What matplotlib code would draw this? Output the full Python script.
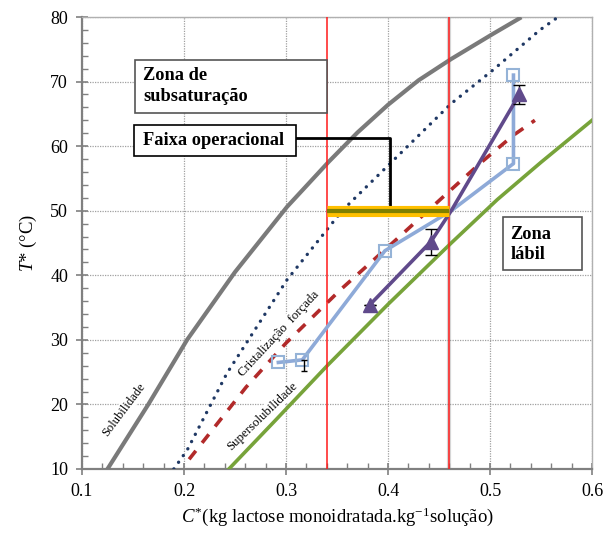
import matplotlib
matplotlib.use('Agg')
import matplotlib.pyplot as plt
from matplotlib.patches import Rectangle
from matplotlib.ticker import MultipleLocator

plt.rcParams['font.family'] = ['Liberation Serif', 'DejaVu Serif']
plt.rcParams['mathtext.fontset'] = 'custom'
plt.rcParams['mathtext.rm'] = 'Liberation Serif'
plt.rcParams['mathtext.it'] = 'Liberation Serif:italic'

# curves
sol_x = [0.125, 0.165, 0.203, 0.25, 0.301, 0.342, 0.37, 0.40, 0.43, 0.462, 0.503, 0.529]
sol_y = [10, 20, 30, 40.5, 50.6, 57.6, 62.1, 66.4, 70.2, 73.5, 77.4, 79.8]

dot_x = [0.19, 0.203, 0.242, 0.301, 0.355, 0.402, 0.462, 0.503, 0.549, 0.565]
dot_y = [10, 12.9, 24.8, 39.3, 50, 57.3, 66.6, 71.8, 78, 79.8]

forc_x = [0.205, 0.261, 0.30, 0.353, 0.41, 0.451, 0.49, 0.523, 0.544]
forc_y = [11.5, 22.7, 29.5, 37.7, 45.8, 51.7, 57.3, 61.7, 64]

sup_x = [0.244, 0.29, 0.341, 0.40, 0.462, 0.507, 0.55, 0.6]
sup_y = [10, 17.6, 26.1, 35.5, 45, 51.7, 57.5, 64]

# experimental runs
blue_x = [0.2925, 0.316, 0.397, 0.462, 0.523, 0.523]
blue_y = [26.5, 26.9, 43.8, 50, 57.3, 71]
blue_marks = [0, 1, 2, 4, 5]

purp_x = [0.382, 0.442, 0.462, 0.525]
purp_y = [35.4, 45.2, 50, 67]
purp_mk_x = [0.382, 0.442, 0.528]
purp_mk_y = [35.4, 45.2, 68]
purp_err = [0, 2.0, 1.4]

c_lo, c_hi = 0.34, 0.46
t_op = 50

fig = plt.figure(figsize=(6.07, 5.33), dpi=100)
ax = fig.add_axes([0.1351, 0.1201, 0.8402, 0.8480])

ax.plot(sol_x, sol_y, color='#7a7a7a', lw=3, zorder=3)
ax.plot(dot_x, dot_y, color='#1f3864', lw=2.4, ls=(0, (0.05, 2.4)), dash_capstyle='round', zorder=3)
ax.plot(forc_x, forc_y, color='#b22a2a', lw=2.6, ls=(0, (3, 2.8)), zorder=3)
ax.plot(sup_x, sup_y, color='#77a33a', lw=2.6, zorder=3)

ax.axvline(c_hi, color='#9a9a9a', lw=3, alpha=0.4, zorder=2)
ax.axvline(c_lo, color='#ff1a1a', lw=1.1, zorder=4)
ax.axvline(c_hi, color='#ff1a1a', lw=1.1, zorder=4)

ax.plot(blue_x, blue_y, color='#8eaad8', lw=2.6, marker='s', ms=8, mfc='none',
        mec='#95b3d7', mew=1.5, markevery=blue_marks, zorder=5)
ax.errorbar([0.318], [26.9], yerr=[[1.8], [0]], fmt='none', ecolor='black', elinewidth=1, capsize=2, zorder=5)

ax.plot(purp_x, purp_y, color='#604a8b', lw=2.6, zorder=6)
ax.errorbar(purp_mk_x, purp_mk_y, yerr=purp_err, fmt='^', color='#604a8b', ms=10,
            ecolor='black', elinewidth=1, capsize=4, zorder=6)

ax.plot([c_lo, c_hi], [t_op, t_op], color='#ffc000', lw=8, solid_capstyle='butt', zorder=7)
ax.plot([c_lo, c_hi], [t_op, t_op], color='#7f8000', lw=3, solid_capstyle='butt', zorder=8)

# bracket from label box to operating band
ax.plot([0.310, 0.402, 0.402], [61.2, 61.2, t_op], color='black', lw=2, zorder=6)

# labels along the curves
ax.text(0.141, 19.2, 'Solubilidade', rotation=53, fontsize=9, ha='center', va='center',
        rotation_mode='anchor', zorder=9,
        bbox=dict(boxstyle='square,pad=0.1', fc='white', ec='none'))
ax.text(0.293, 31, 'Cristalização  forçada', rotation=47, fontsize=9.3, ha='center', va='center',
        rotation_mode='anchor', zorder=9,
        bbox=dict(boxstyle='square,pad=0.15', fc='white', ec='none'))
ax.text(0.277, 18.2, 'Supersolubilidade', rotation=44, fontsize=9.3, ha='center', va='center',
        rotation_mode='anchor', zorder=9,
        bbox=dict(boxstyle='square,pad=0.1', fc='white', ec='none'))

# zone boxes
ax.add_patch(Rectangle((0.152, 65.1), 0.188, 8.3, fc='white', ec='#555555', lw=1.2, zorder=9))
ax.text(0.160, 69.3, 'Zona de\nsubsaturação', fontsize=13.2, fontweight='bold',
        ha='left', va='center', linespacing=1.25, zorder=10)

ax.add_patch(Rectangle((0.151, 58.5), 0.159, 4.8, fc='white', ec='black', lw=1.2, zorder=9))
ax.text(0.160, 60.9, 'Faixa operacional', fontsize=13.2, fontweight='bold',
        ha='left', va='center', zorder=10)

ax.add_patch(Rectangle((0.513, 40.8), 0.077, 8.2, fc='white', ec='#555555', lw=1.2, zorder=9))
ax.text(0.520, 44.8, 'Zona\nlábil', fontsize=13.2, fontweight='bold',
        ha='left', va='center', linespacing=1.25, zorder=10)

ax.set_xlim(0.1, 0.6)
ax.set_ylim(10, 80)
ax.xaxis.set_major_locator(MultipleLocator(0.1))
ax.xaxis.set_minor_locator(MultipleLocator(0.02))
ax.yaxis.set_major_locator(MultipleLocator(10))
ax.yaxis.set_minor_locator(MultipleLocator(2))
ax.set_xticks([0.1, 0.2, 0.3, 0.4, 0.5, 0.6])
ax.set_xticklabels(['0.1', '0.2', '0.3', '0.4', '0.5', '0.6'])
ax.tick_params(which='major', direction='inout', length=8, width=1.2, color='#808080',
               labelsize=13, pad=6)
ax.tick_params(which='minor', direction='in', length=4, width=1, color='#808080')
ax.tick_params(top=False, right=False, which='both')
ax.grid(True, which='major', color='#a0a0a0', ls=(0, (1, 1)), lw=0.9)
ax.set_axisbelow(True)

for s in ['left', 'bottom']:
    ax.spines[s].set_color('#808080')
    ax.spines[s].set_linewidth(1.6)
for s in ['top', 'right']:
    ax.spines[s].set_color('#b0b0b0')
    ax.spines[s].set_linewidth(1.0)

ax.set_xlabel(r'$C^{*}$(kg lactose monoidratada.kg$^{-1}$solução)', fontsize=13.5, labelpad=4)
ax.set_ylabel(r'$T$* (°C)', fontsize=13.5, labelpad=8)

fig.savefig('out.png', dpi=100)
